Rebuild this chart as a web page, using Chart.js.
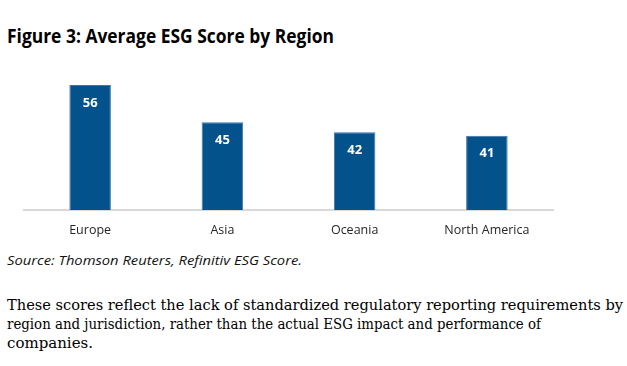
<!DOCTYPE html>
<html>
<head>
<meta charset="utf-8">
<script src="https://cdn.jsdelivr.net/npm/chart.js@4/dist/chart.umd.min.js"></script>
<style>
  html, body { margin: 0; padding: 0; background: #fff; width: 627px; height: 366px; overflow: hidden; }
  .t { position: absolute; white-space: nowrap; transform-origin: 0 0; color: #000; }
  #title { left: 7px; top: 23px; font: bold 19px "Open Sans", sans-serif; }
  #source { left: 7px; top: 251px; font: italic 13px "Open Sans", sans-serif; color: #111; }
  .body { left: 7px; font: 15.5px "DejaVu Serif", serif; }
  #chartBox { position: absolute; left: 0; top: 60px; width: 627px; height: 190px; }
</style>
</head>
<body>
<div id="title" class="t" data-w="327">Figure 3: Average ESG Score by Region</div>
<div id="chartBox"><canvas id="c"></canvas></div>
<div id="source" class="t" data-w="295">Source: Thomson Reuters, Refinitiv ESG Score.</div>
<div class="t body" style="top:296px" data-w="616">These scores reflect the lack of standardized regulatory reporting requirements by</div>
<div class="t body" style="top:315px" data-w="534">region and jurisdiction, rather than the actual ESG impact and performance of</div>
<div class="t body" style="top:334px" data-w="86">companies.</div>
<script>
const regions = ["Europe", "Asia", "Oceania", "North America"];
const esgScores = [56, 45, 42, 41];

document.querySelectorAll('.t[data-w]').forEach(el => {
  const target = parseFloat(el.dataset.w);
  const w = el.getBoundingClientRect().width;
  if (w > 0) el.style.transform = 'scaleX(' + (target / w) + ')';
});

const valueLabels = {
  id: 'valueLabels',
  afterDatasetsDraw(chart) {
    const ctx = chart.ctx;
    const meta = chart.getDatasetMeta(0);
    ctx.save();
    ctx.fillStyle = '#ffffff';
    ctx.font = 'bold 13px "Open Sans", sans-serif';
    ctx.textAlign = 'center';
    ctx.textBaseline = 'middle';
    meta.data.forEach((bar, i) => {
      ctx.fillText(String(chart.data.datasets[0].data[i]), bar.x, bar.y + 18);
    });
    ctx.restore();
  }
};

new Chart(document.getElementById('c'), {
  type: 'bar',
  data: {
    labels: regions,
    datasets: [{
      data: esgScores,
      backgroundColor: '#03528C',
      borderColor: '#3F74A6',
      borderWidth: 1,
      barPercentage: 0.314,
      categoryPercentage: 1
    }]
  },
  options: {
    responsive: true,
    maintainAspectRatio: false,
    animation: false,
    layout: { padding: { left: 24, right: 74, top: 11.5, bottom: 0 } },
    plugins: { legend: { display: false }, tooltip: { enabled: false } },
    scales: {
      x: {
        grid: { display: false, drawTicks: false },
        border: { display: true, color: '#D9D9D9', width: 2 },
        ticks: { color: '#262626', font: { family: '"Open Sans", sans-serif', size: 12.5 }, padding: 12.5 }
      },
      y: {
        display: false,
        min: 19,
        max: 60
      }
    }
  },
  plugins: [valueLabels]
});
</script>
</body>
</html>
